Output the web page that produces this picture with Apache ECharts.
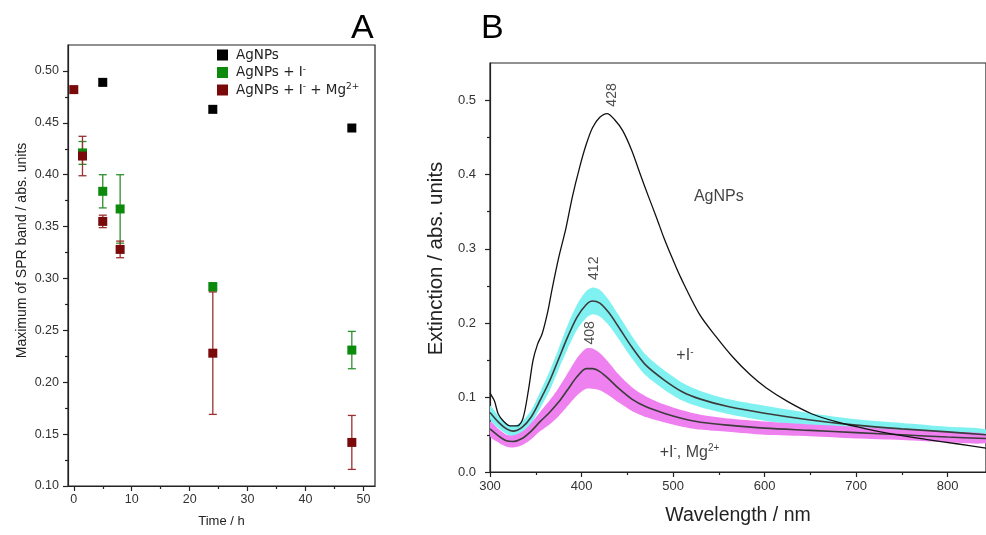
<!DOCTYPE html>
<html>
<head>
<meta charset="utf-8">
<script src="https://cdn.jsdelivr.net/npm/echarts@6/dist/echarts.min.js"></script>
<style>html,body{margin:0;padding:0;background:#fff}#c{width:986px;height:535px}</style>
</head>
<body>
<div id="c"></div>
<script>
// ---------- Panel A data ----------
const timeBlack = [5, 24, 48];
const valBlack  = [0.489, 0.463, 0.445];
const errBlack  = [0.003, 0.003, 0.003];

const timeGreen = [1.5, 5, 8, 24, 48];
const valGreen  = [0.421, 0.384, 0.367, 0.292, 0.231];
const errGreen  = [0.011, 0.016, 0.033, 0.004, 0.018];

const timeRed = [0, 1.5, 5, 8, 24, 48];
const valRed  = [0.482, 0.418, 0.355, 0.328, 0.228, 0.142];
const errRed  = [0.003, 0.019, 0.006, 0.008, 0.059, 0.026];

const ticksA_x = [0, 10, 20, 30, 40, 50];
const minorA_x = [5, 15, 25, 35, 45];
const ticksA_y = [0.10, 0.15, 0.20, 0.25, 0.30, 0.35, 0.40, 0.45, 0.50];
const minorA_y = [0.125, 0.175, 0.225, 0.275, 0.325, 0.375, 0.425, 0.475];

// ---------- Panel B data ----------
const wlBlack = [300,305,309,315,322,330,336,342,347,352,357,363,368,375,383,390,398,405,412,420,428,436,445,455,464,473,482,490,499,509,529,547,565,585,602,625,652,680,711,745,776,810,842];
const extBlack = [0.106,0.095,0.078,0.068,0.062,0.062,0.072,0.110,0.150,0.172,0.186,0.215,0.247,0.288,0.328,0.370,0.410,0.440,0.463,0.477,0.482,0.474,0.459,0.432,0.401,0.371,0.342,0.315,0.288,0.260,0.212,0.182,0.155,0.130,0.113,0.095,0.078,0.067,0.058,0.050,0.044,0.038,0.032];

const wlBand = [300,310,318,325,335,345,355,365,375,385,395,405,412,420,430,440,455,470,490,510,530,560,600,650,700,750,800,842];
const meanI  = [0.080,0.066,0.058,0.055,0.060,0.074,0.097,0.122,0.152,0.182,0.208,0.225,0.230,0.227,0.214,0.196,0.168,0.144,0.124,0.108,0.098,0.088,0.079,0.070,0.063,0.058,0.054,0.050];
const errI   = [0.009,0.008,0.007,0.007,0.008,0.009,0.011,0.013,0.014,0.016,0.017,0.018,0.018,0.018,0.017,0.016,0.015,0.014,0.013,0.012,0.011,0.010,0.010,0.009,0.008,0.008,0.007,0.007];
const meanMg = [0.058,0.048,0.042,0.041,0.045,0.055,0.068,0.080,0.094,0.111,0.128,0.139,0.139,0.135,0.125,0.113,0.098,0.088,0.079,0.072,0.067,0.063,0.059,0.056,0.053,0.050,0.047,0.045];
const errMg  = [0.010,0.009,0.008,0.008,0.009,0.011,0.013,0.016,0.019,0.022,0.025,0.027,0.027,0.025,0.022,0.019,0.016,0.014,0.012,0.011,0.010,0.009,0.009,0.008,0.008,0.007,0.007,0.006];

const ticksB_x = [300, 400, 500, 600, 700, 800];
const minorB_x = [350, 450, 550, 650, 750];
const ticksB_y = [0.0, 0.1, 0.2, 0.3, 0.4, 0.5];
const minorB_y = [0.05, 0.15, 0.25, 0.35, 0.45];

// annotations (text, wavelength, extinction at text centre)
const annoText = ['428', '412', '408'];
const annoX = [433.5, 414, 409.6];
const annoY = [0.507, 0.274, 0.187];
const curveText = ['AgNPs', '+I{sup|-}', '+I{sup|-}, Mg{sup|2+}'];
const curveX = [550, 513, 518];
const curveY = [0.370, 0.156, 0.026];

// ---------- build ----------
const FONT = 'Liberation Sans';
const C_BLACK = '#000000', C_GREEN = '#0b8a0b', C_RED = '#7a0a0a';
const C_GREEN_ERR = '#2e8f2e', C_RED_ERR = '#9a3030';
const C_CYAN = '#7ff1f1', C_MAG = '#ef80ef', C_MEAN = '#3c3c3c';

function zip(a, b) { return a.map((v, i) => [v, b[i]]); }
function zip3(a, b, c) { return a.map((v, i) => [v, b[i], c[i]]); }

function errSeries(name, t, v, e, color) {
  return {
    name: name, type: 'custom', xAxisIndex: 0, yAxisIndex: 0, z: 2,
    data: zip3(t, v, e), encode: {x: 0, y: 1},
    renderItem: function (params, api) {
      const x = api.value(0), val = api.value(1), er = api.value(2);
      const pt = api.coord([x, val + er]);
      const pb = api.coord([x, val - er]);
      const w = 4;
      const st = {stroke: color, lineWidth: 1.3};
      return {type: 'group', children: [
        {type: 'line', shape: {x1: pt[0], y1: pt[1], x2: pb[0], y2: pb[1]}, style: st},
        {type: 'line', shape: {x1: pt[0] - w, y1: pt[1], x2: pt[0] + w, y2: pt[1]}, style: st},
        {type: 'line', shape: {x1: pb[0] - w, y1: pb[1], x2: pb[0] + w, y2: pb[1]}, style: st}
      ]};
    }
  };
}
function ptSeries(name, t, v, color) {
  return {name: name, type: 'scatter', symbol: 'rect', symbolSize: 9, z: 3,
    xAxisIndex: 0, yAxisIndex: 0, itemStyle: {color: color, opacity: 1}, data: zip(t, v)};
}
function bandSeries(name, mean, err, color) {
  return {
    name: name, type: 'custom', xAxisIndex: 2, yAxisIndex: 2, clip: true, silent: true, z: 1,
    data: [[wlBand[0], mean[0]]], encode: {x: 0, y: 1},
    renderItem: function (params, api) {
      const up = wlBand.map((w, i) => api.coord([w, mean[i] + err[i]]));
      const lo = wlBand.map((w, i) => api.coord([w, mean[i] - err[i]])).reverse();
      return {type: 'polygon', shape: {points: up.concat(lo), smooth: 0.25}, style: {fill: color}};
    }
  };
}
function meanSeries(name, mean) {
  return {name: name, type: 'line', xAxisIndex: 2, yAxisIndex: 2, smooth: 0.3,
    symbol: 'none', lineStyle: {width: 1.6, color: C_MEAN}, z: 3, data: zip(wlBand, mean)};
}

const axLine = {show: true, onZero: false, lineStyle: {color: '#222', width: 1.2}};
function mainAxis(extra) {
  return Object.assign({
    type: 'value', axisLine: axLine, splitLine: {show: false}
  }, extra);
}
function minorAxis(extra, vals) {
  return Object.assign({
    type: 'value', axisLine: {show: false, onZero: false}, splitLine: {show: false},
    axisLabel: {show: false},
    axisTick: {show: true, inside: false, length: 3, customValues: vals, lineStyle: {color: '#222', width: 1.2}}
  }, extra);
}

const names = ['AgNPs', 'AgNPs + I-', 'AgNPs + I- + Mg2+'];
const legendFmt = {
  'AgNPs': 'AgNPs',
  'AgNPs + I-': 'AgNPs + I{sup|-}',
  'AgNPs + I- + Mg2+': 'AgNPs + I{sup|-} + Mg{sup|2+}'
};

const option = {
  backgroundColor: '#fff',
  animation: false,
  textStyle: {fontFamily: FONT},
  grid: [
    {left: 68, top: 45, width: 307, height: 441, show: true, borderColor: '#222', borderWidth: 1.2, backgroundColor: 'transparent'},
    {left: 490, top: 63, width: 497, height: 409, show: true, borderColor: '#222', borderWidth: 1.2, backgroundColor: 'transparent'}
  ],
  xAxis: [
    mainAxis({gridIndex: 0, min: -1, max: 52, position: 'bottom',
      axisTick: {show: true, length: 5, customValues: ticksA_x, lineStyle: {color: '#222', width: 1.2}},
      axisLabel: {customValues: ticksA_x, fontSize: 12.5, color: '#333', margin: 7, fontFamily: FONT},
      name: 'Time / h', nameLocation: 'middle', nameGap: 29,
      nameTextStyle: {fontSize: 13, color: '#222', fontFamily: FONT}}),
    minorAxis({gridIndex: 0, min: -1, max: 52, position: 'bottom'}, minorA_x),
    mainAxis({gridIndex: 1, min: 300, max: 842, position: 'bottom',
      axisTick: {show: true, length: 5, customValues: ticksB_x, lineStyle: {color: '#222', width: 1.2}},
      axisLabel: {customValues: ticksB_x, fontSize: 13, color: '#333', margin: 8, fontFamily: FONT},
      name: 'Wavelength / nm', nameLocation: 'middle', nameGap: 34,
      nameTextStyle: {fontSize: 19.5, color: '#222', fontFamily: FONT}}),
    minorAxis({gridIndex: 1, min: 300, max: 842, position: 'bottom'}, minorB_x)
  ],
  yAxis: [
    mainAxis({gridIndex: 0, min: 0.1, max: 0.525, position: 'left',
      axisTick: {show: true, length: 5, customValues: ticksA_y, lineStyle: {color: '#222', width: 1.2}},
      axisLabel: {customValues: ticksA_y, fontSize: 12.5, color: '#333', margin: 9, fontFamily: FONT,
        formatter: v => v.toFixed(2)},
      name: 'Maximum of SPR band / abs. units', nameLocation: 'middle', nameGap: 39,
      nameTextStyle: {fontSize: 14, color: '#222', fontFamily: FONT, padding: [0, 0, 0, 30]}}),
    minorAxis({gridIndex: 0, min: 0.1, max: 0.525, position: 'left'}, minorA_y),
    mainAxis({gridIndex: 1, min: 0, max: 0.55, position: 'left',
      axisTick: {show: true, length: 5, customValues: ticksB_y, lineStyle: {color: '#222', width: 1.2}},
      axisLabel: {customValues: ticksB_y, fontSize: 13, color: '#333', margin: 14, fontFamily: FONT,
        formatter: v => v.toFixed(1)},
      name: 'Extinction / abs. units', nameLocation: 'middle', nameGap: 43,
      nameTextStyle: {fontSize: 20.5, color: '#222', fontFamily: FONT, padding: [0, 0, 0, 18]}}),
    minorAxis({gridIndex: 1, min: 0, max: 0.55, position: 'left'}, minorB_y)
  ],
  legend: {
    data: names, orient: 'vertical', left: 212, top: 43, itemWidth: 11, itemHeight: 11, itemGap: 3,
    icon: 'rect',
    formatter: n => legendFmt[n],
    textStyle: {fontFamily: 'DejaVu Sans', fontSize: 13.5, color: '#222', padding: [0, 0, 0, 3],
      rich: {sup: {fontSize: 9, fontFamily: 'DejaVu Sans', color: '#222', verticalAlign: 'top', padding: [0, 0, 6, 0]}}}
  },
  graphic: [
    {type: 'text', left: 351, top: 12, style: {text: 'A', fontSize: 34, fontFamily: FONT, fill: '#000'}},
    {type: 'text', left: 481, top: 12, style: {text: 'B', fontSize: 34, fontFamily: FONT, fill: '#000'}}
  ],
  series: [
    ptSeries(names[0], timeBlack, valBlack, C_BLACK),
    ptSeries(names[1], timeGreen, valGreen, C_GREEN),
    ptSeries(names[2], timeRed, valRed, C_RED),
    errSeries(names[0], timeBlack, valBlack, errBlack, '#222'),
    errSeries(names[1], timeGreen, valGreen, errGreen, C_GREEN_ERR),
    errSeries(names[2], timeRed, valRed, errRed, C_RED_ERR),
    bandSeries('I band', meanI, errI, C_CYAN),
    bandSeries('Mg band', meanMg, errMg, C_MAG),
    meanSeries('I mean', meanI),
    meanSeries('Mg mean', meanMg),
    {name: 'AgNPs spectrum', type: 'line', xAxisIndex: 2, yAxisIndex: 2, smooth: 0.3,
     symbol: 'none', lineStyle: {width: 1.3, color: '#111'}, z: 4, data: zip(wlBlack, extBlack)},
    {name: 'peaks', type: 'scatter', xAxisIndex: 2, yAxisIndex: 2, symbolSize: 1,
     itemStyle: {color: 'rgba(0,0,0,0)'}, silent: true, z: 5,
     label: {show: true, position: 'inside', rotate: 90, fontSize: 14, color: '#222', fontFamily: FONT,
       formatter: p => annoText[p.dataIndex]},
     data: zip(annoX, annoY)},
    {name: 'curve labels', type: 'scatter', xAxisIndex: 2, yAxisIndex: 2, symbolSize: 1,
     itemStyle: {color: 'rgba(0,0,0,0)'}, silent: true, z: 5,
     label: {show: true, position: 'inside', fontSize: 16, color: '#111', fontFamily: FONT,
       formatter: p => curveText[p.dataIndex],
       rich: {sup: {fontSize: 10, fontFamily: FONT, color: '#111', verticalAlign: 'top', padding: [0, 0, 8, 0]}}},
     data: zip(curveX, curveY)}
  ]
};
const chart = echarts.init(document.getElementById('c'), null, {renderer: 'canvas'});
chart.setOption(option);
</script>
</body>
</html>
